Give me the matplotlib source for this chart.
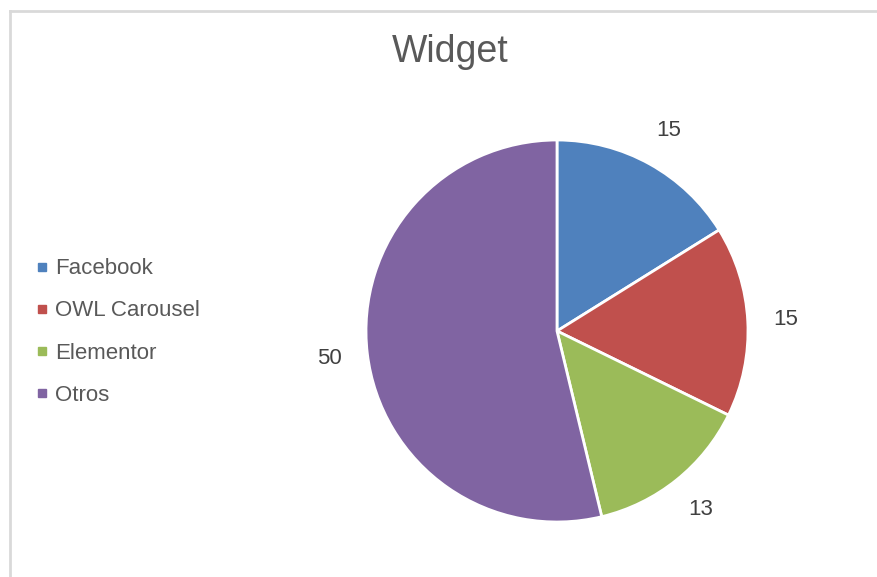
import matplotlib
matplotlib.use("Agg")
import matplotlib.pyplot as plt
from matplotlib.lines import Line2D

plt.rcParams['font.family'] = ['Liberation Sans', 'DejaVu Sans']

categories = ["Facebook", "OWL Carousel", "Elementor", "Otros"]
values = [15, 15, 13, 50]
colors = ["#4F81BD", "#C0504D", "#9BBB59", "#8064A2"]
title = "Widget"

W, H = 877, 577
fig = plt.figure(figsize=(W / 100, H / 100), dpi=100)

# chart-area border (top and left visible)
fig.add_artist(Line2D([9.5 / W, 9.5 / W], [0, 1 - 11 / H], color="#d9d9d9", lw=2))
fig.add_artist(Line2D([9.5 / W, 1], [1 - 11 / H, 1 - 11 / H], color="#d9d9d9", lw=2))

r = 191
cx, cy = 557, 331
ax = fig.add_axes([(cx - r) / W, 1 - (cy + r) / H, 2 * r / W, 2 * r / H])
wedges, texts = ax.pie(values, colors=colors, startangle=90, counterclock=False,
                       labels=[str(v) for v in values], labeldistance=1.2,
                       wedgeprops=dict(edgecolor="white", linewidth=2),
                       textprops=dict(fontsize=16, color="#404040"))
for t in texts:
    t.set_horizontalalignment("center")
    t.set_verticalalignment("center")
ax.set_xlim(-1, 1)
ax.set_ylim(-1, 1)
ax.set_aspect("equal")
ax.axis("off")

fig.text(450 / W, 1 - 52 / H, title, ha="center", va="center", fontsize=27, color="#595959")

handles = [Line2D([], [], marker="s", linestyle="none", markersize=6,
                  markerfacecolor=c, markeredgecolor=c) for c in colors]
fig.legend(handles, categories, loc="center left", bbox_to_anchor=(26 / W, 1 - 332 / H),
           frameon=False, fontsize=16, labelcolor="#595959", handlelength=0.6,
           handletextpad=0.3, labelspacing=0.95, borderaxespad=0)

fig.savefig("out.png", dpi=100, facecolor="white")
